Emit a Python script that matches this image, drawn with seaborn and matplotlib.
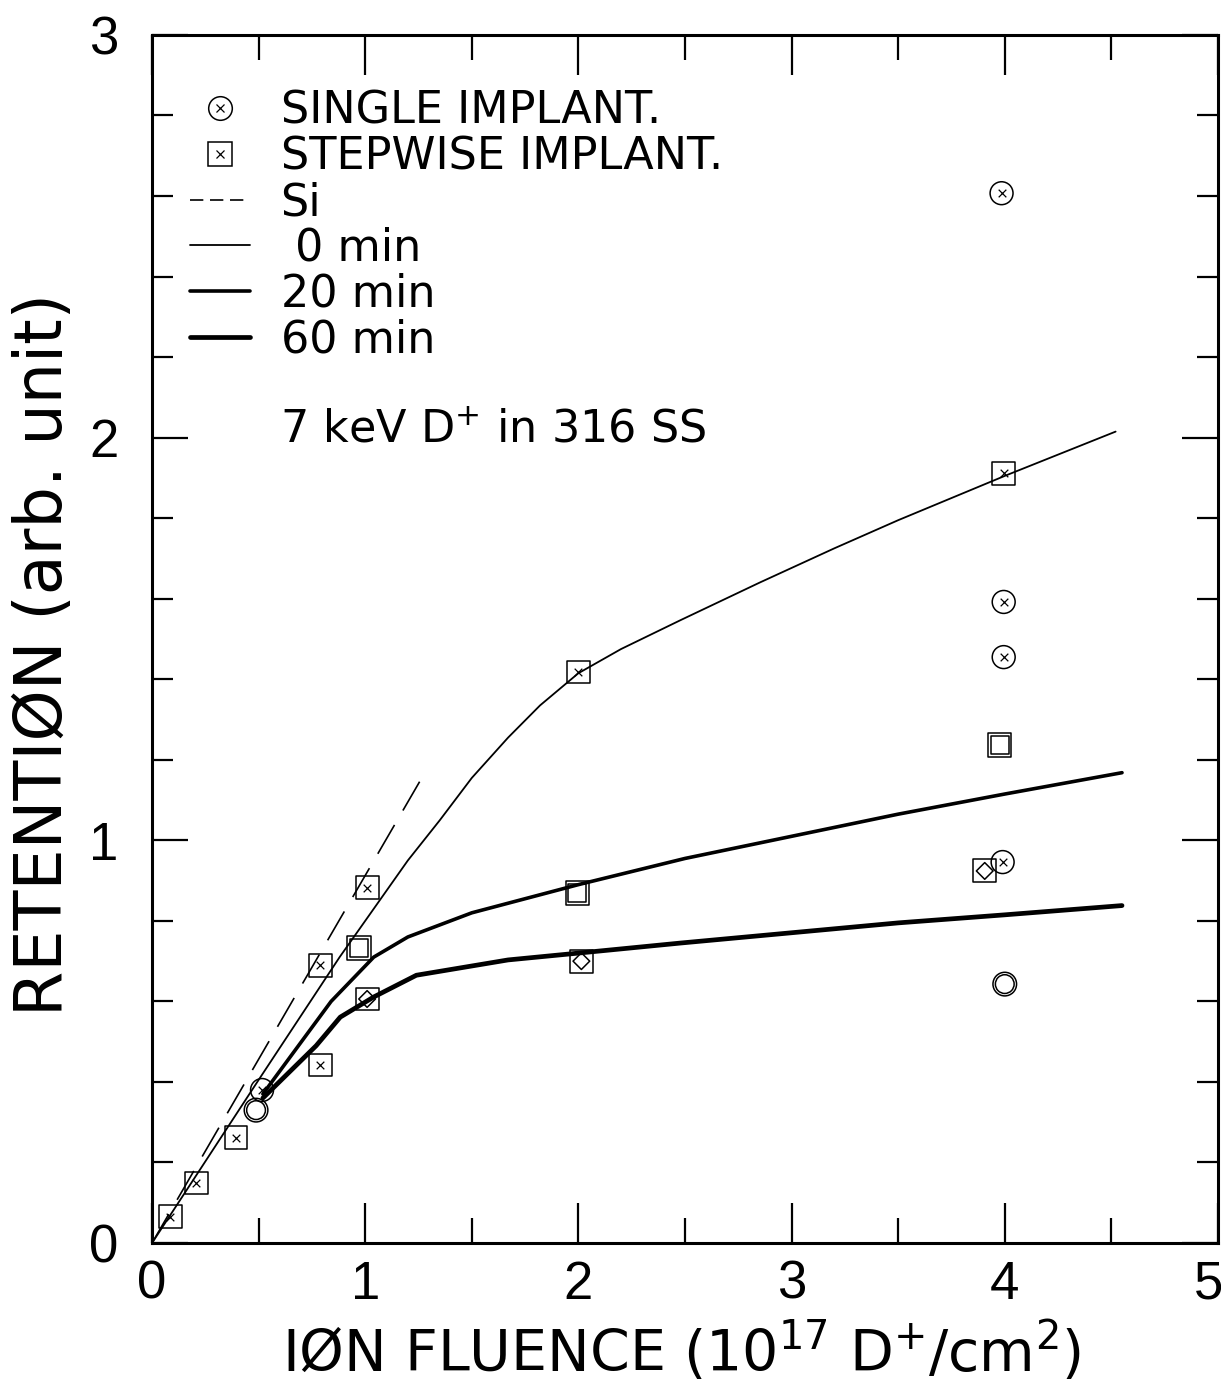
import numpy as np
import matplotlib
matplotlib.use("Agg")
import matplotlib.pyplot as plt
from matplotlib.lines import Line2D
from matplotlib.legend_handler import HandlerTuple
from matplotlib.transforms import ScaledTranslation
import seaborn as sns

# ---- data ----
# fitted curves
si_x = [0.0, 1.26]
si_y = [0.0, 1.15]
min0_x = [0.0, 0.5, 0.88, 1.04, 1.2, 1.35, 1.5, 1.67, 1.82, 2.0, 2.2, 2.48, 2.85, 3.2, 3.5, 4.0, 4.52]
min0_y = [0.0, 0.405, 0.71, 0.83, 0.95, 1.05, 1.155, 1.255, 1.335, 1.415, 1.475, 1.547, 1.64, 1.725, 1.795, 1.905, 2.015]
min20_x = [0.52, 0.84, 1.04, 1.2, 1.5, 2.0, 2.5, 3.0, 3.5, 4.0, 4.55]
min20_y = [0.37, 0.60, 0.71, 0.76, 0.82, 0.89, 0.955, 1.01, 1.065, 1.115, 1.168]
min60_x = [0.52, 0.77, 0.883, 1.04, 1.24, 1.67, 2.0, 2.48, 3.5, 4.0, 4.55]
min60_y = [0.36, 0.49, 0.561, 0.611, 0.665, 0.703, 0.72, 0.745, 0.795, 0.815, 0.838]

# single implant, 0 min (circle with x)
single0_x = [0.516, 3.985, 3.995, 3.995, 3.99]
single0_y = [0.380, 2.607, 1.592, 1.455, 0.946]
# single implant, 60 min (double circle)
single60_x = [0.488, 4.0]
single60_y = [0.330, 0.643]
# stepwise implant, 0 min (square with x)
step0_x = [0.085, 0.207, 0.394, 0.789, 0.789, 1.009, 2.0, 3.995]
step0_y = [0.065, 0.149, 0.261, 0.442, 0.690, 0.882, 1.418, 1.912]
# stepwise implant, 20 min (double square)
step20_x = [0.972, 1.995, 3.976]
step20_y = [0.733, 0.869, 1.237]
# stepwise implant, 60 min (square with diamond)
step60_x = [1.009, 2.014, 3.906]
step60_y = [0.606, 0.700, 0.924]

legend_labels = ["SINGLE IMPLANT.", "STEPWISE IMPLANT.", "Si", " 0 min", "20 min", "60 min"]
note_text = "7 keV D$^{+}$ in 316 SS"
xlabel = "IØN FLUENCE (10$^{17}$ D$^{+}$/cm$^{2}$)"
ylabel = "RETENTIØN (arb. unit)"

sns.set_theme(style="ticks")
plt.rcParams["font.family"] = ["DejaVu Sans"]
plt.rcParams["mathtext.default"] = "regular"
plt.rcParams["text.color"] = "black"
plt.rcParams["axes.labelcolor"] = "black"
plt.rcParams["xtick.color"] = "black"
plt.rcParams["ytick.color"] = "black"

fig = plt.figure(figsize=(12.21, 13.87), dpi=100)
ax = fig.add_axes([0.1245, 0.1038, 0.873, 0.871])

# curves
sns.lineplot(x=si_x, y=si_y, sort=False, estimator=None, color="black", lw=1.2, ax=ax)
ax.lines[-1].set_dashes((20, 10))
sns.lineplot(x=min0_x, y=min0_y, sort=False, estimator=None, color="black", lw=1.3, ax=ax)
sns.lineplot(x=min20_x, y=min20_y, sort=False, estimator=None, color="black", lw=2.6, ax=ax)
sns.lineplot(x=min60_x, y=min60_y, sort=False, estimator=None, color="black", lw=3.4, ax=ax)


def pts(xs, ys, marker, size, lw=1.1):
    if marker in ("x", "+"):
        sns.scatterplot(x=xs, y=ys, marker=marker, s=size ** 2, color="black",
                        linewidth=lw, ax=ax, zorder=5)
    else:
        sns.scatterplot(x=xs, y=ys, marker=marker, s=size ** 2, facecolor="none",
                        edgecolor="black", linewidth=lw, ax=ax, zorder=5)


pts(single0_x, single0_y, "o", 16.5)
pts(single0_x, single0_y, "x", 5.5, 0.9)
pts(single60_x, single60_y, "o", 17)
pts(single60_x, single60_y, "o", 13.5)
pts(step0_x, step0_y, "s", 16.5)
pts(step0_x, step0_y, "x", 5.5, 0.9)
pts(step20_x, step20_y, "s", 17)
pts(step20_x, step20_y, "s", 13)
pts(step60_x, step60_y, "s", 16.5)
pts(step60_x, step60_y, "D", 8.5)

# axes styling
ax.set_xlim(0, 5)
ax.set_ylim(0, 3)
ax.set_xticks([0, 1, 2, 3, 4, 5])
ax.set_xticks(np.arange(0.5, 5, 1.0), minor=True)
ax.set_yticks([0, 1, 2, 3])
ax.set_yticks([v / 5 for v in range(1, 15) if v % 5], minor=True)
ax.tick_params(axis="both", which="both", direction="in", top=True, right=True,
               color="black", width=1.6)
ax.tick_params(axis="x", which="major", length=29, pad=12)
ax.tick_params(axis="x", which="minor", length=18)
ax.tick_params(axis="y", which="major", length=26, pad=24)
ax.tick_params(axis="y", which="minor", length=15)
for lab in ax.get_xticklabels() + ax.get_yticklabels():
    lab.set_fontfamily("Liberation Sans")
    lab.set_fontsize(38)
    lab.set_color("black")
last = ax.get_xticklabels()[-1]
last.set_transform(last.get_transform() + ScaledTranslation(-0.09, 0, fig.dpi_scale_trans))
for sp in ax.spines.values():
    sp.set_linewidth(2.2)
    sp.set_color("black")

ax.set_xlabel(xlabel, fontsize=41, color="black")
ax.xaxis.set_label_coords(0.497, -0.063)
ax.set_ylabel(ylabel, fontsize=47, color="black")
ax.yaxis.set_label_coords(-0.071, 0.487)

# legend
circ = Line2D([], [], ls="none", marker="o", ms=17, mfc="none", mec="black", mew=1.1)
sq = Line2D([], [], ls="none", marker="s", ms=17, mfc="none", mec="black", mew=1.1)
xm = Line2D([], [], ls="none", marker="x", ms=5.5, mec="black", mew=0.9)
si_h = Line2D([], [], color="black", lw=1.2, dashes=(8, 4))
h0 = Line2D([], [], color="black", lw=1.3)
h20 = Line2D([], [], color="black", lw=2.6)
h60 = Line2D([], [], color="black", lw=3.4)
leg = ax.legend([(circ, xm), (sq, xm), si_h, h0, h20, h60], legend_labels,
                handler_map={tuple: HandlerTuple(ndivide=1)},
                loc="upper left", bbox_to_anchor=(0.036, 0.955), frameon=False,
                fontsize=32, handlelength=1.35, handletextpad=0.68, labelspacing=0.065,
                borderaxespad=0.0, borderpad=0.0)
for t in leg.get_texts():
    t.set_color("black")

ax.text(0.12, 0.673, note_text, transform=ax.transAxes, fontsize=32,
        va="center", ha="left", color="black")

fig.savefig("out.png", dpi=100, facecolor="white")
